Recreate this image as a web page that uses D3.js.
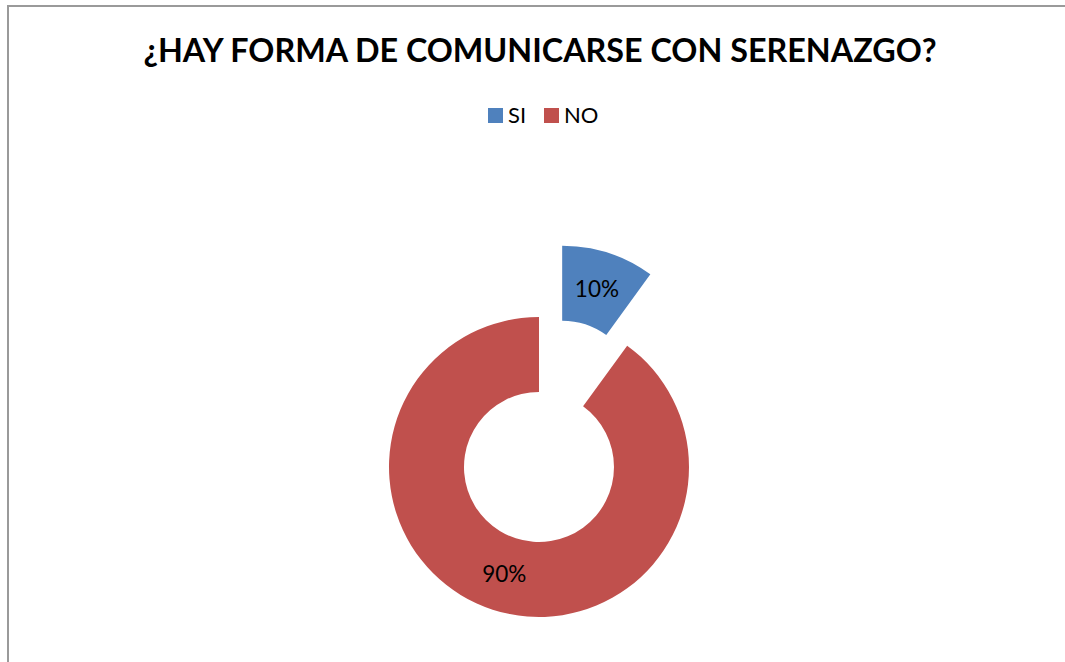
<!DOCTYPE html>
<html><head><meta charset="utf-8">
<script src="https://cdn.jsdelivr.net/npm/d3@7"></script>
<style>html,body{margin:0;padding:0;background:#fff;}svg{display:block;}</style>
</head><body>
<svg id="c" width="1065" height="662"></svg>
<script>
const title = "¿HAY FORMA DE COMUNICARSE CON SERENAZGO?";
const categories = ["SI", "NO"];
const values = [10, 90];
const labels = ["10%", "90%"];
const colors = ["#4F81BD", "#C0504D"];
const explode = [true, false];

const svg = d3.select("#c");
const W = 1065, H = 662;
svg.append("rect").attr("x",0).attr("y",0).attr("width",W).attr("height",H).attr("fill","#fff");
svg.append("path").attr("d","M8,662 L8,6 L1065,6").attr("fill","none").attr("stroke","#9a9a9a").attr("stroke-width",2);

const font = "Lato, 'Open Sans', sans-serif";
svg.append("text").attr("x",540).attr("y",62).attr("text-anchor","middle")
  .attr("font-family",font).attr("font-weight","bold").attr("font-size",32.3)
  .attr("fill","#000").text(title);

const leg = svg.append("g");
const legX = [488, 544];
categories.forEach((c,i)=>{
  leg.append("rect").attr("x",legX[i]).attr("y",108).attr("width",15).attr("height",15).attr("fill",colors[i]);
  leg.append("text").attr("x",legX[i]+20).attr("y",123).attr("font-family",font).attr("font-size",22).attr("fill","#000").text(c);
});

const cx = 539, cy = 467, rO = 150, rI = 75, exD = 75;
const pie = d3.pie().sort(null).value(d=>d)(values);
const arc = d3.arc().innerRadius(rI).outerRadius(rO);
const g = svg.append("g").attr("transform",`translate(${cx},${cy})`);
pie.forEach((p,i)=>{
  const mid = (p.startAngle+p.endAngle)/2;
  const dx = explode[i] ? exD*Math.sin(mid) : 0;
  const dy = explode[i] ? -exD*Math.cos(mid) : 0;
  const sg = g.append("g").attr("transform",`translate(${dx},${dy})`);
  sg.append("path").attr("d",arc(p)).attr("fill",colors[i]);
  const [lx,ly] = arc.centroid(p);
  sg.append("text").attr("x",lx).attr("y",ly).attr("dy","0.35em").attr("text-anchor","middle")
    .attr("font-family",font).attr("font-size",22.5).attr("fill","#000").text(labels[i]);
});
</script>
</body></html>
